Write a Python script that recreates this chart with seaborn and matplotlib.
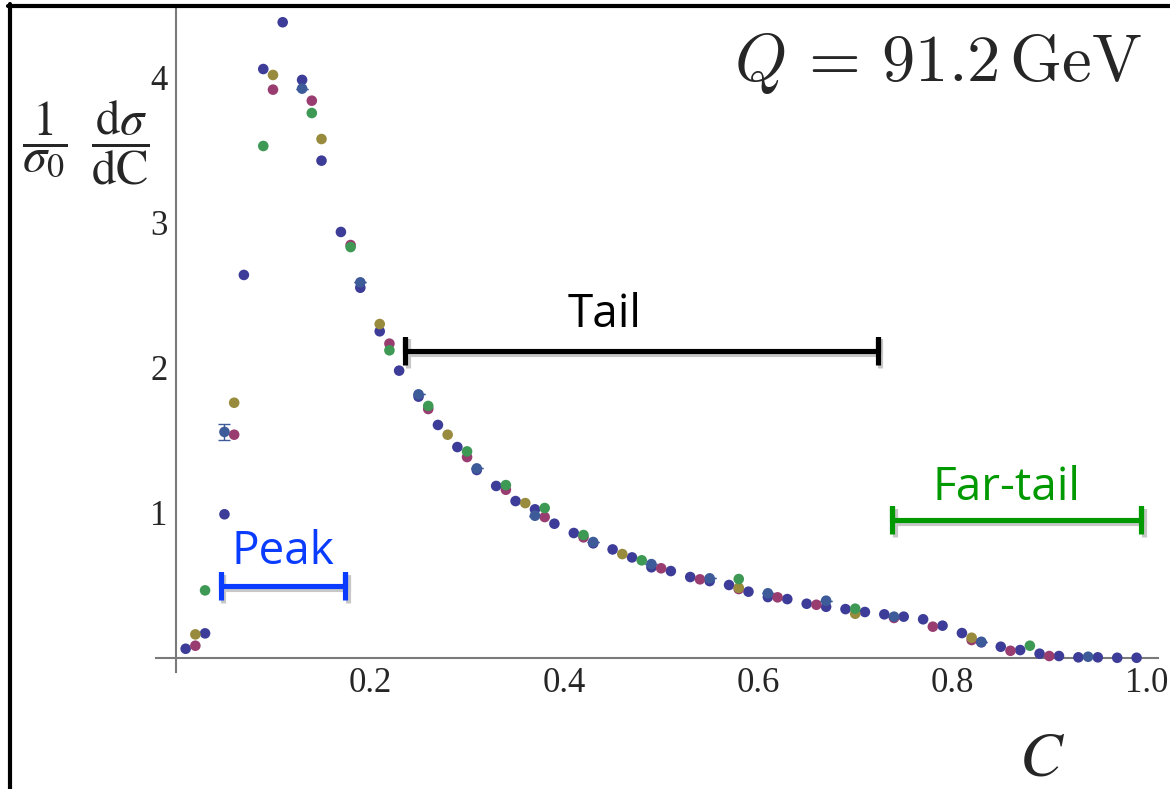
import matplotlib
matplotlib.use("Agg")
import numpy as np
import pandas as pd
import seaborn as sns
import matplotlib.pyplot as plt
import matplotlib.patheffects as pe
from matplotlib.lines import Line2D
from matplotlib.ticker import FixedLocator, FixedFormatter, MultipleLocator

# ---- measured C-parameter distributions, five data sets ----
set1_x = [0.01, 0.03, 0.05, 0.07, 0.09, 0.11, 0.13, 0.15, 0.17, 0.19,
          0.21, 0.23, 0.25, 0.27, 0.29, 0.31, 0.33, 0.35, 0.37, 0.39,
          0.41, 0.43, 0.45, 0.47, 0.49, 0.51, 0.53, 0.55, 0.57, 0.59,
          0.61, 0.63, 0.65, 0.67, 0.69, 0.71, 0.73, 0.75, 0.77, 0.79,
          0.81, 0.83, 0.85, 0.87, 0.89, 0.91, 0.93, 0.95, 0.97, 0.99]
set1_y = [0.064, 0.170, 0.990, 2.638, 4.056, 4.378, 3.981, 3.425, 2.934, 2.550,
          2.250, 1.979, 1.800, 1.605, 1.453, 1.295, 1.185, 1.081, 1.024, 0.925,
          0.861, 0.790, 0.748, 0.693, 0.625, 0.599, 0.558, 0.530, 0.503, 0.457,
          0.420, 0.406, 0.374, 0.353, 0.337, 0.317, 0.301, 0.285, 0.267, 0.223,
          0.172, 0.108, 0.078, 0.055, 0.030, 0.014, 0.005, 0.005, 0.002, 0.002]

set2_x = [0.02, 0.06, 0.10, 0.14, 0.18, 0.22, 0.26, 0.30, 0.34, 0.38, 0.42,
          0.50, 0.54, 0.58, 0.62, 0.66, 0.74, 0.78, 0.82, 0.86, 0.90]
set2_y = [0.085, 1.538, 3.914, 3.838, 2.844, 2.165, 1.715, 1.384, 1.159, 0.971, 0.831,
          0.618, 0.542, 0.475, 0.418, 0.367, 0.276, 0.216, 0.124, 0.050, 0.014]

set3_x = [0.02, 0.06, 0.10, 0.15, 0.21, 0.28, 0.36, 0.46, 0.58, 0.70, 0.82]
set3_y = [0.163, 1.758, 4.015, 3.574, 2.300, 1.538, 1.067, 0.716, 0.484, 0.305, 0.140]

set4_x = [0.03, 0.09, 0.14, 0.18, 0.22, 0.26, 0.30, 0.34, 0.38, 0.42, 0.48, 0.58, 0.70, 0.88]
set4_y = [0.466, 3.526, 3.753, 2.830, 2.119, 1.736, 1.423, 1.191, 1.033, 0.847, 0.673, 0.544, 0.340, 0.085]

set5_x = [0.05, 0.13, 0.19, 0.25, 0.31, 0.37, 0.43, 0.49, 0.55, 0.61, 0.67, 0.74, 0.83, 0.94]
set5_y = [1.557, 3.921, 2.587, 1.816, 1.306, 0.980, 0.799, 0.647, 0.549, 0.446, 0.395, 0.285, 0.112, 0.009]
set5_err = [0.055, 0, 0, 0, 0, 0, 0, 0, 0, 0, 0, 0, 0, 0]

set_names = ["set1", "set2", "set3", "set4", "set5"]
set_colors = ["#3d3d99", "#993d71", "#998b3d", "#3d9954", "#3d5b99"]

# fit regions: (label, C start, C end, height)
region_labels = ["Peak", "Tail", "Far-tail"]
region_start = [0.046, 0.236, 0.738]
region_end = [0.174, 0.723, 0.995]
region_height = [0.496, 2.116, 0.950]
region_colors = ["#0a3cff", "black", "#009a00"]

x_tick_values = [0.0, 0.2, 0.4, 0.6, 0.8, 1.0]
x_tick_labels = ["", "0.2", "0.4", "0.6", "0.8", "1.0"]
y_tick_values = [0, 1, 2, 3, 4]
y_tick_labels = ["", "1", "2", "3", "4"]

frames = []
for name, xs, ys in zip(set_names,
                        [set1_x, set2_x, set3_x, set4_x, set5_x],
                        [set1_y, set2_y, set3_y, set4_y, set5_y]):
    frames.append(pd.DataFrame({"C": xs, "dist": ys, "set": name}))
df = pd.concat(frames, ignore_index=True)

sns.set_style("white")
plt.rcParams["font.family"] = ["Liberation Serif", "DejaVu Serif"]

fig = plt.figure(figsize=(11.7, 7.89), dpi=100)
ax = fig.add_axes([0.1333, 0.1483, 0.8564, 0.8441])

sns.scatterplot(data=df, x="C", y="dist", hue="set", hue_order=set_names,
                palette=set_colors, s=58, linewidth=0, legend=False,
                ax=ax, zorder=3)

# error bar on the set5 points
ax.errorbar(set5_x, set5_y, yerr=set5_err, fmt="none", ecolor=set_colors[4],
            elinewidth=1.0, capsize=4, capthick=1.0, zorder=2)

# region brackets with a soft shadow
cap_half = 0.098
shadow = [pe.SimpleLineShadow(offset=(2, -2), shadow_color="black", alpha=0.22),
          pe.Normal()]
for lab, x0, x1, yh, col in zip(region_labels, region_start, region_end,
                                 region_height, region_colors):
    bx = [x0, x0, x0, x1, x1, x1]
    by = [yh - cap_half, yh + cap_half, yh, yh, yh + cap_half, yh - cap_half]
    ax.plot(bx, by, color=col, lw=3.7, solid_joinstyle="miter",
            solid_capstyle="butt", zorder=4, path_effects=shadow)

ax.text(0.442, 2.280, "Tail", color="black", family="Open Sans", fontsize=33,
        ha="center", va="baseline", zorder=5)
ax.text(0.110, 0.647, "Peak", color=region_colors[0], family="Open Sans",
        fontsize=33, ha="center", va="baseline", zorder=5)
ax.text(0.856, 1.088, "Far-tail", color=region_colors[2], family="Open Sans",
        fontsize=33, ha="center", va="baseline", zorder=5)

# axes crossing at the origin
ax.set_xlim(-0.0206, 1.012)
ax.set_ylim(-0.096, 4.49)
for side in ["top", "right"]:
    ax.spines[side].set_visible(False)
for side in ["left", "bottom"]:
    ax.spines[side].set_position(("data", 0))
    ax.spines[side].set_color("#7a7a7a")
    ax.spines[side].set_linewidth(1.5)

ax.xaxis.set_major_locator(FixedLocator(x_tick_values))
ax.xaxis.set_major_formatter(FixedFormatter(x_tick_labels))
ax.xaxis.set_minor_locator(MultipleLocator(0.05))
ax.yaxis.set_major_locator(FixedLocator(y_tick_values))
ax.yaxis.set_major_formatter(FixedFormatter(y_tick_labels))
ax.yaxis.set_minor_locator(MultipleLocator(0.2))
ax.tick_params(which="both", direction="in", color="#333333", width=1.0,
               labelsize=25)
ax.tick_params(which="major", length=7.5)
ax.tick_params(which="minor", length=4.5)
ax.tick_params(axis="x", which="both", pad=6.5)
ax.tick_params(axis="y", which="both", pad=6)
ax.set_xlabel("")
ax.set_ylabel("")
ax.grid(False)

# axis titles and energy label
fig.text(0.0735, 0.8188,
         r"$\dfrac{1}{\sigma_0}\;\;\dfrac{\mathrm{d}\sigma}{\mathrm{dC}}$",
         math_fontfamily="stix", fontsize=35, ha="center", va="center")
fig.text(0.8906, 0.0165, r"$C$", math_fontfamily="stix", fontsize=46,
         ha="center", va="baseline")
fig.text(0.976, 0.897, r"$Q\,=\,91.2\,\mathrm{GeV}$", math_fontfamily="cm",
         fontsize=48, ha="right", va="baseline")

# outer frame edges
fig.add_artist(Line2D([8 / 1170, 1.0], [1 - 6 / 789, 1 - 6 / 789],
                      transform=fig.transFigure, color="black", lw=3.0))
fig.add_artist(Line2D([10 / 1170, 10 / 1170], [0.0, 1 - 4 / 789],
                      transform=fig.transFigure, color="black", lw=3.0))

fig.savefig("out.png", dpi=100, facecolor="white")
